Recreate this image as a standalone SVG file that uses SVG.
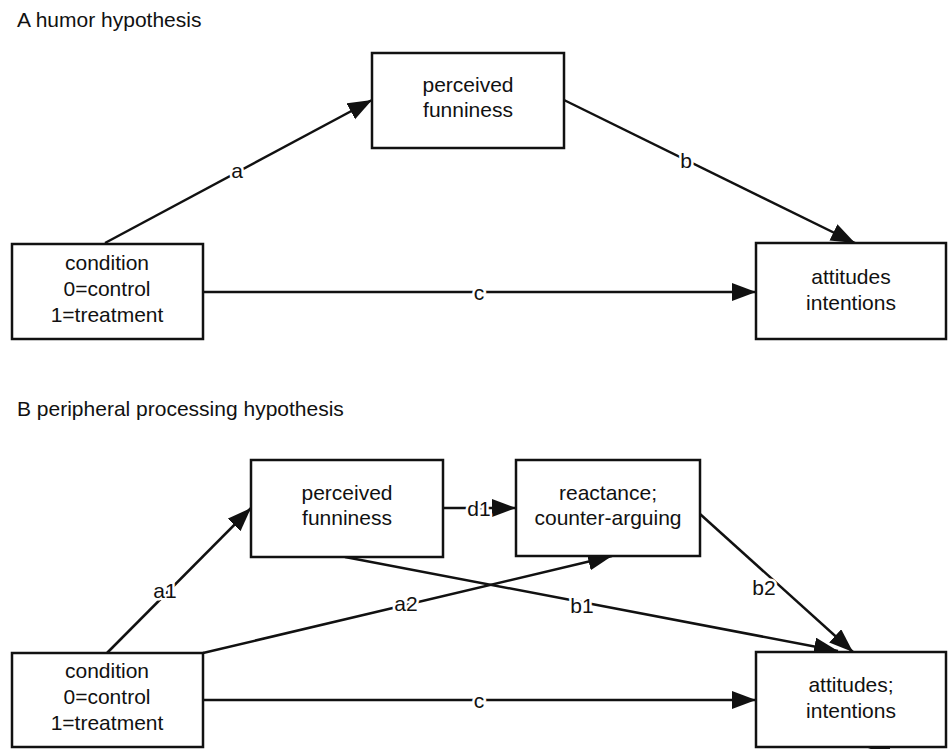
<svg xmlns="http://www.w3.org/2000/svg" width="948" height="749" viewBox="0 0 948 749">
<defs>
<marker id="ah" markerUnits="userSpaceOnUse" markerWidth="26" markerHeight="20" refX="24" refY="9" orient="auto">
<path d="M0,0 L24,9 L0,18 z" fill="#111"/>
</marker>
<style>
text{font-family:"Liberation Sans",Arial,sans-serif;font-size:21px;fill:#111}
.box{fill:#fff;stroke:#111;stroke-width:2.5}
.n text{text-anchor:middle}
.e{fill:none;stroke:#111;stroke-width:2.5;marker-end:url(#ah)}
.lbl{text-anchor:middle;dominant-baseline:central;stroke:#fff;stroke-width:5;paint-order:stroke;stroke-linejoin:round}
</style>
</defs>
<rect width="948" height="749" fill="#fff"/>
<text x="17" y="27">A humor hypothesis</text>
<text x="17" y="416">B peripheral processing hypothesis</text>

<g id="connectors">
<line class="e" x1="105" y1="243" x2="372" y2="100"/>
<line class="e" x1="564" y1="100" x2="855" y2="243"/>
<line class="e" x1="203" y1="292" x2="756" y2="292"/>
<line class="e" x1="443" y1="508" x2="516" y2="508"/>
<line class="e" x1="107" y1="653" x2="251" y2="508"/>
<line class="e" x1="203" y1="653" x2="612" y2="556"/>
<line class="e" x1="345" y1="557" x2="838" y2="651"/>
<line class="e" x1="700" y1="514" x2="853" y2="652"/>
<line class="e" x1="203" y1="700" x2="756" y2="700"/>
<polygon points="868,749 890,741 890,749" fill="#111"/>
<text class="lbl" x="237" y="170">a</text>
<text class="lbl" x="686" y="160">b</text>
<text class="lbl" x="479" y="292">c</text>
<text class="lbl" x="479" y="508">d1</text>
<text class="lbl" x="165" y="590">a1</text>
<text class="lbl" x="406" y="603">a2</text>
<text class="lbl" x="582" y="605">b1</text>
<text class="lbl" x="764" y="587">b2</text>
<text class="lbl" x="479" y="700">c</text>
</g>

<g id="a-funny" class="n"><rect class="box" x="372" y="53" width="192" height="95"/><text x="468" y="92">perceived</text><text x="468" y="117">funniness</text></g>
<g id="a-cond" class="n"><rect class="box" x="12" y="244" width="191" height="95"/><text x="107" y="270">condition</text><text x="107" y="296">0=control</text><text x="107" y="322">1=treatment</text></g>
<g id="a-att" class="n"><rect class="box" x="756" y="243" width="190" height="96"/><text x="851" y="284">attitudes</text><text x="851" y="310">intentions</text></g>

<g id="b-funny" class="n"><rect class="box" x="251" y="460" width="192" height="97"/><text x="347" y="500">perceived</text><text x="347" y="525">funniness</text></g>
<g id="b-react" class="n"><rect class="box" x="516" y="460" width="184" height="96"/><text x="608" y="500">reactance;</text><text x="608" y="525">counter-arguing</text></g>
<g id="b-cond" class="n"><rect class="box" x="12" y="653" width="191" height="94"/><text x="107" y="678">condition</text><text x="107" y="704">0=control</text><text x="107" y="730">1=treatment</text></g>
<g id="b-att" class="n"><rect class="box" x="756" y="652" width="190" height="95"/><text x="851" y="692">attitudes;</text><text x="851" y="718">intentions</text></g>
</svg>
